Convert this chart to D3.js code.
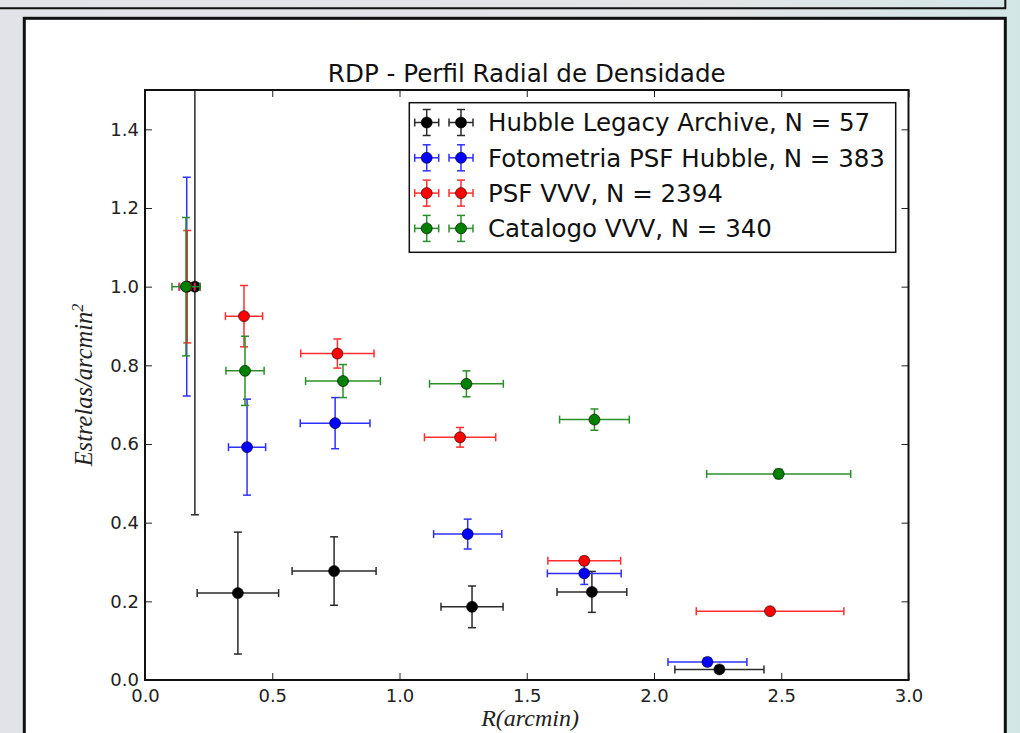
<!DOCTYPE html>
<html>
<head>
<meta charset="utf-8">
<script src="https://cdn.jsdelivr.net/npm/d3@7"></script>
<style>
  body { margin: 0; overflow: hidden; background: #e4e5e9; }
  svg { display: block; }
</style>
</head>
<body>
<div id="chart"></div>
<script>
// data (R in arcmin, density normalised)
const seriesNames = [
  'Hubble Legacy Archive, N = 57',
  'Fotometria PSF Hubble, N = 383',
  'PSF VVV, N = 2394',
  'Catalogo VVV, N = 340'
];
const seriesColors = ['#000000', '#0000ff', '#ff0000', '#008000'];
const barColors = ['#2a2a2a', '#2f2fff', '#ff2f2f', '#2a8f2a'];

const hlaR     = [0.196, 0.365, 0.743, 1.285, 1.756, 2.257];
const hlaD     = [1.000, 0.221, 0.277, 0.186, 0.224, 0.027];
const hlaRErr  = [0.020, 0.160, 0.165, 0.122, 0.137, 0.175];
const hlaDErr  = [0.580, 0.155, 0.087, 0.053, 0.052, 0.008];

const psfHR    = [0.164, 0.401, 0.747, 1.268, 1.726, 2.210];
const psfHD    = [1.000, 0.592, 0.653, 0.371, 0.271, 0.046];
const psfHRErr = [0.030, 0.073, 0.137, 0.134, 0.145, 0.155];
const psfHDErr = [0.278, 0.122, 0.065, 0.038, 0.028, 0.010];

const psfVR    = [0.166, 0.389, 0.756, 1.238, 1.726, 2.456];
const psfVD    = [1.000, 0.925, 0.830, 0.617, 0.303, 0.175];
const psfVRErr = [0.030, 0.073, 0.144, 0.140, 0.143, 0.290];
const psfVDErr = [0.143, 0.078, 0.037, 0.025, 0.010, 0.008];

const catR     = [0.161, 0.393, 0.778, 1.263, 1.766, 2.490];
const catD     = [1.000, 0.786, 0.760, 0.753, 0.662, 0.524];
const catRErr  = [0.055, 0.075, 0.147, 0.145, 0.137, 0.283];
const catDErr  = [0.176, 0.088, 0.042, 0.033, 0.027, 0.012];

const xTicks = [0, 0.5, 1, 1.5, 2, 2.5, 3];
const yTicks = [0, 0.2, 0.4, 0.6, 0.8, 1.0, 1.2, 1.4];

const series = [
  { r: hlaR, d: hlaD, re: hlaRErr, de: hlaDErr },
  { r: psfHR, d: psfHD, re: psfHRErr, de: psfHDErr },
  { r: psfVR, d: psfVD, re: psfVRErr, de: psfVDErr },
  { r: catR, d: catD, re: catRErr, de: catDErr }
].map((s, i) => Object.assign(s, { name: seriesNames[i], color: seriesColors[i], bar: barColors[i] }));

const width = 1020, height = 733;
const plotLeft = 145, plotRight = 908.5, plotTop = 90, plotBottom = 680;

const svg = d3.select('#chart').append('svg')
  .attr('width', width)
  .attr('height', height);

// window-ish background
const defs = svg.append('defs');
const grad = defs.append('linearGradient')
  .attr('id', 'bg').attr('x1', 0).attr('x2', 1).attr('y1', 0).attr('y2', 0);
grad.append('stop').attr('offset', '0%').attr('stop-color', '#e2e3e8');
grad.append('stop').attr('offset', '70%').attr('stop-color', '#e3e4e6');
grad.append('stop').attr('offset', '100%').attr('stop-color', '#d3e6e6');
svg.append('rect').attr('width', width).attr('height', height).attr('fill', 'url(#bg)');

svg.append('path')
  .attr('d', 'M0,8.3H1005.3V0')
  .attr('fill', 'none').attr('stroke', '#111').attr('stroke-width', 2);

svg.append('rect')
  .attr('x', 24.3).attr('y', 18.3).attr('width', 981).attr('height', 740)
  .attr('fill', '#fff').attr('stroke', '#111').attr('stroke-width', 3);

defs.append('clipPath').attr('id', 'plotClip')
  .append('rect').attr('x', plotLeft).attr('y', plotTop)
  .attr('width', plotRight - plotLeft).attr('height', plotBottom - plotTop);

const x = d3.scaleLinear().domain([0, 3]).range([plotLeft, plotRight]);
const y = d3.scaleLinear().domain([0, 1.5]).range([plotBottom, plotTop]);

const cap = 4;

function errorPoint(g, cx, cy, x0, x1, y0, y1, s) {
  const bars = g.append('g')
    .attr('stroke', s.bar)
    .attr('stroke-width', 1.5)
    .attr('fill', 'none');
  bars.append('line').attr('x1', x0).attr('x2', x1).attr('y1', cy).attr('y2', cy);
  bars.append('line').attr('x1', x0).attr('x2', x0).attr('y1', cy - cap).attr('y2', cy + cap);
  bars.append('line').attr('x1', x1).attr('x2', x1).attr('y1', cy - cap).attr('y2', cy + cap);
  bars.append('line').attr('x1', cx).attr('x2', cx).attr('y1', y0).attr('y2', y1);
  bars.append('line').attr('x1', cx - cap).attr('x2', cx + cap).attr('y1', y0).attr('y2', y0);
  bars.append('line').attr('x1', cx - cap).attr('x2', cx + cap).attr('y1', y1).attr('y2', y1);
}

// points
const plot = svg.append('g').attr('clip-path', 'url(#plotClip)');
series.forEach(s => {
  const g = plot.append('g');
  s.r.forEach((r, i) => {
    errorPoint(g, x(r), y(s.d[i]), x(r - s.re[i]), x(r + s.re[i]),
      y(s.d[i] + s.de[i]), y(s.d[i] - s.de[i]), s);
  });
  g.selectAll('circle')
    .data(s.r)
    .enter().append('circle')
    .attr('cx', d => x(d))
    .attr('cy', (d, i) => y(s.d[i]))
    .attr('r', 5.5)
    .attr('fill', s.color)
    .attr('stroke', '#000')
    .attr('stroke-width', 0.6);
});

// axes, ticks pointing inwards on all sides
const fmt = d3.format('.1f');
function styleAxis(g) {
  g.select('.domain').remove();
  g.selectAll('.tick line').attr('stroke', '#222');
  g.selectAll('.tick text')
    .attr('font-family', 'DejaVu Sans')
    .attr('font-size', 18)
    .attr('fill', '#222');
}
svg.append('g').attr('transform', `translate(0,${plotBottom})`)
  .call(d3.axisBottom(x).tickValues(xTicks).tickFormat(fmt).tickSizeInner(-7).tickSizeOuter(0).tickPadding(9))
  .call(styleAxis);
svg.append('g').attr('transform', `translate(0,${plotTop})`)
  .call(d3.axisTop(x).tickValues(xTicks).tickFormat('').tickSizeInner(-7).tickSizeOuter(0))
  .call(styleAxis);
svg.append('g').attr('transform', `translate(${plotLeft},0)`)
  .call(d3.axisLeft(y).tickValues(yTicks).tickFormat(fmt).tickSizeInner(-7).tickSizeOuter(0).tickPadding(6))
  .call(styleAxis);
svg.append('g').attr('transform', `translate(${plotRight},0)`)
  .call(d3.axisRight(y).tickValues(yTicks).tickFormat('').tickSizeInner(-7).tickSizeOuter(0))
  .call(styleAxis);

svg.append('rect')
  .attr('x', plotLeft).attr('y', plotTop)
  .attr('width', plotRight - plotLeft).attr('height', plotBottom - plotTop)
  .attr('fill', 'none').attr('stroke', '#111').attr('stroke-width', 2);

// title and axis labels
svg.append('text')
  .attr('x', (plotLeft + plotRight) / 2).attr('y', 82)
  .attr('text-anchor', 'middle')
  .attr('font-family', 'DejaVu Sans').attr('font-size', 24.6)
  .attr('fill', '#111')
  .text('RDP - Perfil Radial de Densidade');

svg.append('text')
  .attr('x', 530).attr('y', 726)
  .attr('text-anchor', 'middle')
  .attr('font-family', 'Liberation Serif').attr('font-style', 'italic').attr('font-size', 24)
  .attr('fill', '#222')
  .text('R(arcmin)');

const yl = svg.append('text')
  .attr('transform', `translate(92,${(plotTop + plotBottom) / 2}) rotate(-90)`)
  .attr('text-anchor', 'middle')
  .attr('font-family', 'Liberation Serif').attr('font-style', 'italic').attr('font-size', 24.5)
  .attr('fill', '#222');
yl.append('tspan').text('Estrelas/arcmin');
yl.append('tspan').attr('dy', -9).attr('font-size', 16).text('2');

// legend
const legend = svg.append('g');
legend.append('rect')
  .attr('x', 409.3).attr('y', 102.7).attr('width', 486.4).attr('height', 149.6)
  .attr('fill', '#fff').attr('stroke', '#111').attr('stroke-width', 1.5);
series.forEach((s, i) => {
  const cy = 122.5 + i * 35.3;
  const g = legend.append('g');
  [426.7, 461].forEach(cx => {
    errorPoint(g, cx, cy, cx - 12, cx + 12, cy - 13, cy + 13, s);
    g.append('circle').attr('cx', cx).attr('cy', cy).attr('r', 5.5)
      .attr('fill', s.color).attr('stroke', '#000').attr('stroke-width', 0.6);
  });
  g.append('text')
    .attr('x', 488).attr('y', cy).attr('dy', '0.36em')
    .attr('font-family', 'DejaVu Sans').attr('font-size', 24.5)
    .attr('fill', '#111')
    .text(s.name);
});
</script>
</body>
</html>
